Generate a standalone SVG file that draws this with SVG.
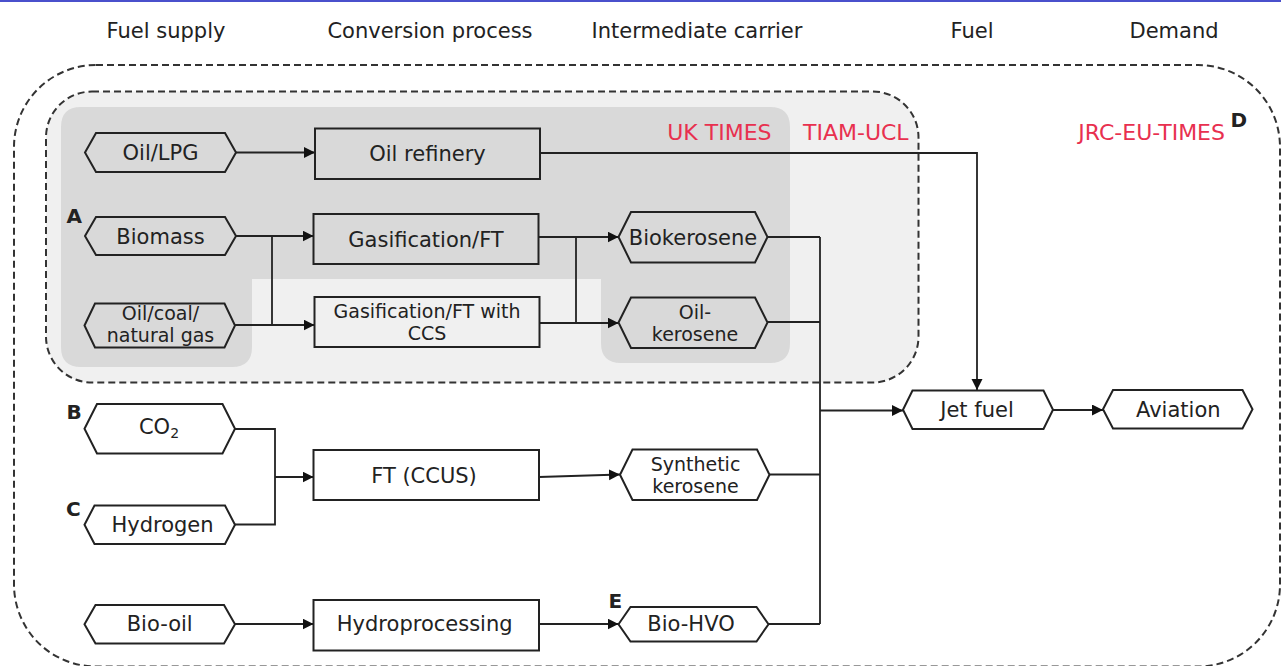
<svg xmlns="http://www.w3.org/2000/svg" width="1281" height="666" viewBox="0 0 1281 666">
<style>
text{font-family:"DejaVu Sans","Verdana",sans-serif;fill:#222;}
.hdr{font-size:21px;text-anchor:middle;}
.lbl{font-size:21px;text-anchor:middle;}
.lbl2{font-size:19px;text-anchor:middle;}
.red{font-size:22px;fill:#e8304f;}
.tag{font-size:20px;font-weight:bold;}
.node{fill:none;stroke:#222;stroke-width:2;stroke-linejoin:miter;}
.dash{stroke:#333;stroke-width:2;stroke-dasharray:7 4;}
.conn path,.conn line{fill:none;stroke:#222;stroke-width:1.8;}
</style>
<defs>
<marker id="arr" markerUnits="userSpaceOnUse" markerWidth="12" markerHeight="12" refX="11" refY="5.5" orient="auto">
<path d="M0,0 L11,5.5 L0,11 Z" fill="#111"/>
</marker>
</defs>
<rect x="0" y="0" width="1281" height="666" fill="#fff"/>
<line x1="0" y1="1" x2="1281" y2="1" stroke="#4a50cc" stroke-width="2"/>

<g id="headers">
<text class="hdr" x="166" y="38">Fuel supply</text>
<text class="hdr" x="430" y="38">Conversion process</text>
<text class="hdr" x="697" y="38">Intermediate carrier</text>
<text class="hdr" x="972" y="38">Fuel</text>
<text class="hdr" x="1174" y="38">Demand</text>
</g>

<g id="regions">
<rect id="jrc" class="dash" x="14" y="65" width="1266" height="601.5" rx="82" ry="82" fill="none"/>
<rect id="tiam" class="dash" x="46" y="91.5" width="872.5" height="291" rx="46" ry="46" fill="#f0f0f0"/>
<path id="uktimes" d="M81,107 H770 Q790,107 790,127 V343 Q790,363 770,363 H621 Q601,363 601,343 V279 H252 V347 Q252,367 232,367 H81 Q61,367 61,347 V127 Q61,107 81,107 Z" fill="#d9d9d9"/>
<text class="red" x="771.5" y="140" text-anchor="end">UK TIMES</text>
<text class="red" x="803" y="140">TIAM-UCL</text>
<text class="red" x="1225" y="140" text-anchor="end">JRC-EU-TIMES</text>
</g>

<g id="tags">
<text class="tag" x="66.5" y="223">A</text>
<text class="tag" x="66.5" y="418.5">B</text>
<text class="tag" x="66" y="515.5">C</text>
<text class="tag" x="1230.5" y="126.5">D</text>
<text class="tag" x="608.5" y="608">E</text>
</g>

<g class="conn" id="connectors">
<path d="M236,152.5 H315" marker-end="url(#arr)"/>
<path d="M540,153 H977 V390" marker-end="url(#arr)"/>
<path d="M236,236 H313.5" marker-end="url(#arr)"/>
<path d="M272,236 V325"/>
<path d="M235,325 H314.5" marker-end="url(#arr)"/>
<path d="M538.5,237 H618.5" marker-end="url(#arr)"/>
<path d="M576,237 V323"/>
<path d="M539.5,323 H618.5" marker-end="url(#arr)"/>
<path d="M767.5,237 H820"/>
<path d="M767.5,322 H820"/>
<path d="M769.5,474.5 H820"/>
<path d="M768.5,624 H820"/>
<path d="M820,237 V624"/>
<path d="M820,410.5 H903" marker-end="url(#arr)"/>
<path d="M1053,410 H1103" marker-end="url(#arr)"/>
<path d="M235,429 H275 V524.5 H235"/>
<path d="M275,477 H313.5" marker-end="url(#arr)"/>
<path d="M539,477 L620,474.5" marker-end="url(#arr)"/>
<path d="M235,624 H313.5" marker-end="url(#arr)"/>
<path d="M539,624 H618.5" marker-end="url(#arr)"/>
</g>

<g id="n-oil-lpg"><path class="node" d="M85,152.5 L96,133 L225,133 L236,152.5 L225,172 L96,172 Z"/><text class="lbl" x="160.5" y="160">Oil/LPG</text></g>
<g id="n-oil-refinery"><rect class="node" x="315" y="128.5" width="225" height="50.5"/><text class="lbl" x="427.5" y="161">Oil refinery</text></g>
<g id="n-biomass"><path class="node" d="M85,236 L96,217 L225,217 L236,236 L225,255 L96,255 Z"/><text class="lbl" x="160.5" y="243.5">Biomass</text></g>
<g id="n-gasification"><rect class="node" x="313.5" y="214" width="225" height="50"/><text class="lbl" x="426" y="247">Gasification/FT</text></g>
<g id="n-oil-coal"><path class="node" d="M84.5,325.5 L95,303.5 L224.5,303.5 L235,325.5 L224.5,347.5 L95,347.5 Z"/><text class="lbl2" x="160.5" y="320">Oil/coal/</text><text class="lbl2" x="160.5" y="342">natural gas</text></g>
<g id="n-gasification-ccs"><rect class="node" x="314.5" y="297" width="225" height="50"/><text class="lbl2" x="427" y="317.5">Gasification/FT with</text><text class="lbl2" x="427" y="339.5">CCS</text></g>
<g id="n-biokerosene"><path class="node" d="M618.5,237 L631,212 L755,212 L767.5,237 L755,262.5 L631,262.5 Z"/><text class="lbl" x="693" y="244.5">Biokerosene</text></g>
<g id="n-oil-kerosene"><path class="node" d="M618.5,322.5 L631,297.5 L755,297.5 L767.5,322.5 L755,348 L631,348 Z"/><text class="lbl2" x="695" y="318.5">Oil-</text><text class="lbl2" x="695" y="340.5">kerosene</text></g>
<g id="n-co2"><path class="node" d="M84.5,428.7 L97,404 L222.5,404 L235,428.7 L222.5,453.5 L97,453.5 Z"/><text class="lbl" x="159" y="434">CO<tspan font-size="14" dy="4">2</tspan></text></g>
<g id="n-hydrogen"><path class="node" d="M84.5,524.7 L94.5,505.5 L225,505.5 L235,524.7 L225,544 L94.5,544 Z"/><text class="lbl" x="162.5" y="531.7">Hydrogen</text></g>
<g id="n-ft-ccus"><rect class="node" x="313.5" y="450" width="225.5" height="50"/><text class="lbl" x="424" y="482.7">FT (CCUS)</text></g>
<g id="n-synthetic"><path class="node" d="M620,474.7 L632.5,449.5 L757,449.5 L769.5,474.7 L757,500 L632.5,500 Z"/><text class="lbl2" x="695.5" y="470.5">Synthetic</text><text class="lbl2" x="695.5" y="492.5">kerosene</text></g>
<g id="n-bio-oil"><path class="node" d="M84.5,624.2 L95.5,605 L224,605 L235,624.2 L224,643.5 L95.5,643.5 Z"/><text class="lbl" x="159.7" y="630.7">Bio-oil</text></g>
<g id="n-hydroprocessing"><rect class="node" x="313.5" y="600" width="225.5" height="50.5"/><text class="lbl" x="424.7" y="630.7">Hydroprocessing</text></g>
<g id="n-bio-hvo"><path class="node" d="M618.5,624.2 L630.5,607 L756.5,607 L768.5,624.2 L756.5,641.5 L630.5,641.5 Z"/><text class="lbl" x="691" y="630.7">Bio-HVO</text></g>
<g id="n-jet-fuel"><path class="node" d="M903,409.7 L912.5,390.5 L1043.5,390.5 L1053,409.7 L1043.5,429 L912.5,429 Z"/><text class="lbl" x="977" y="417.3">Jet fuel</text></g>
<g id="n-aviation"><path class="node" d="M1103,409.2 L1113,390 L1242.5,390 L1252.5,409.2 L1242.5,428.5 L1113,428.5 Z"/><text class="lbl" x="1178.3" y="417">Aviation</text></g>
</svg>
